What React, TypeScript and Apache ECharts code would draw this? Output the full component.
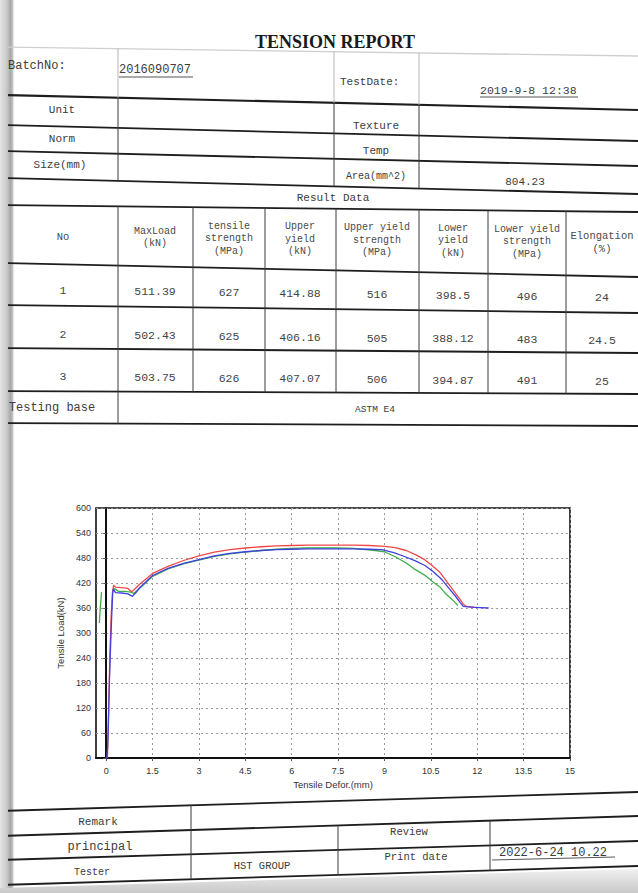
import React, { useEffect, useRef } from "react";
import * as echarts from "echarts";

// ---------- table data ----------
const testNos = ["1", "2", "3"];
const maxLoad = ["511.39", "502.43", "503.75"];
const tensileStrength = ["627", "625", "626"];
const upperYield = ["414.88", "406.16", "407.07"];
const upperYieldStrength = ["516", "505", "506"];
const lowerYield = ["398.5", "388.12", "394.87"];
const lowerYieldStrength = ["496", "483", "491"];
const elongation = ["24", "24.5", "25"];
const headerLabels = [
  "No",
  "MaxLoad\n(kN)",
  "tensile\nstrength\n(MPa)",
  "Upper\nyield\n(kN)",
  "Upper yield\nstrength\n(MPa)",
  "Lower\nyield\n(kN)",
  "Lower yield\nstrength\n(MPa)",
  "Elongation\n(%)",
];

// ---------- axis ticks ----------
const xTickValues = [0, 1.5, 3, 4.5, 6, 7.5, 9, 10.5, 12, 13.5, 15];

// ---------- curves (Tensile Defor. mm, Tensile Load kN) ----------
const test1Defor = [0.04, 0.08, 0.12, 0.16, 0.2, 0.24, 0.3, 0.5, 0.7, 0.82, 0.9, 1.1, 1.5, 2.0, 2.5, 3.0, 3.5, 4.0, 4.5, 5.0, 5.5, 6.0, 6.5, 7.0, 7.5, 8.0, 8.5, 9.0, 9.35, 9.7, 10.0, 10.3, 10.54, 10.8, 10.98, 11.15, 11.31, 11.45, 11.55, 11.65, 11.9];
const test1Load = [0, 120, 250, 340, 395, 415, 410, 409, 407, 399, 404, 418, 443, 460, 474, 485, 494, 500, 504, 507, 509, 510, 511, 511, 511, 511, 510, 508, 505, 498, 488, 476, 462, 445, 427, 410, 394, 380, 369, 364, 362];

const test2Defor = [0.02, 0.05, 0.07, 0.1, 0.14, 0.18, 0.21, 0.23, 0.3, 0.5, 0.7, 0.85, 0.95, 1.1, 1.5, 2.0, 2.5, 3.0, 3.5, 4.0, 4.5, 5.0, 5.5, 6.0, 6.5, 7.0, 7.5, 8.0, 8.5, 8.92, 9.3, 9.67, 10.0, 10.31, 10.6, 10.87, 11.1, 11.31, 11.45, 11.55, 11.8, 12.1, 12.37];
const test2Load = [0, 30, 80, 175, 265, 345, 395, 406, 397, 396, 394, 388, 396, 410, 438, 455, 467, 476, 485, 491, 495, 498, 500, 501, 502, 502, 502, 502, 501, 500, 493, 483, 473, 462, 446, 427, 406, 387, 373, 364, 362, 361, 360];

const test3PreDefor = [-0.22, -0.21, -0.19, -0.15];
const test3PreLoad = [324, 340, 362, 398];
const test3Defor = [0.25, 0.4, 0.6, 0.8, 0.88, 1.0, 1.2, 1.5, 2.0, 2.5, 3.0, 3.5, 4.0, 4.5, 5.0, 5.5, 6.0, 6.5, 7.0, 7.5, 8.0, 8.7, 9.0, 9.35, 9.7, 10.0, 10.3, 10.54, 10.8, 10.98, 11.15, 11.31, 11.37];
const test3Load = [407, 400, 400, 398, 395, 402, 415, 436, 454, 466, 475, 484, 490, 494, 498, 501, 503, 504, 504, 504, 503, 498, 495, 483, 468, 452, 439, 424, 410, 394, 383, 371, 366];

const zip = (xs: number[], ys: number[]) => xs.map((x, i) => [x, ys[i]]);

// ---------- drawing helpers ----------
const MONO = '"Liberation Mono", "DejaVu Sans Mono", monospace';
type Seg = [number, number];
const yAt = (s: Seg, x: number) => s[0] + ((s[1] - s[0]) * x) / 638;

const H: Record<string, Seg> = {
  faint: [47, 56],
  L1: [95, 110],
  LA: [125, 141],
  LB: [151, 166],
  LC: [178, 194],
  LRD: [205, 212],
  LH: [263, 277],
  R1: [305, 313],
  R2: [348, 353],
  R3: [391, 394],
  LT: [423, 426],
  B0: [811, 792],
  B1: [836, 816],
  B2: [860, 841],
  B3: [885, 866],
};

function line(x1: number, y1: number, x2: number, y2: number, w = 1.6, c = "#1e1e1e") {
  return { type: "line", silent: true, shape: { x1, y1, x2, y2 }, style: { stroke: c, lineWidth: w } };
}
function hline(s: Seg, w = 1.8, c = "#1e1e1e") {
  return line(8, yAt(s, 8), 638, yAt(s, 638), w, c);
}
function vline(x: number, a: Seg | number, b: Seg | number, w = 1, c = "#3a3a3a") {
  const y1 = typeof a === "number" ? a : yAt(a, x);
  const y2 = typeof b === "number" ? b : yAt(b, x);
  return line(x, y1, x, y2, w, c);
}
function text(t: string, x: number, y: number, size: number, opts: any = {}) {
  return {
    type: "text",
    silent: true,
    x,
    y,
    style: {
      text: t,
      font: `${opts.bold ? "bold " : ""}${size}px ${opts.family || MONO}`,
      fill: opts.fill || "#3c3c3c",
      align: opts.align || "center",
      verticalAlign: "middle",
      lineHeight: opts.lineHeight || size + 2,
    },
  };
}

function buildGraphic() {
  const g: any[] = [];
  // paper edges
  g.push({
    type: "rect",
    silent: true,
    z: -10,
    shape: { x: 0, y: 0, width: 15, height: 893 },
    style: {
      fill: {
        type: "linear", x: 0, y: 0, x2: 1, y2: 0,
        colorStops: [
          { offset: 0, color: "#e4e4e4" },
          { offset: 0.45, color: "#c9c9c9" },
          { offset: 0.7, color: "#a9a9a9" },
          { offset: 0.85, color: "#c4c4c4" },
          { offset: 1, color: "rgba(255,255,255,0)" },
        ],
      },
    },
  });
  g.push({
    type: "polygon",
    silent: true,
    z: -10,
    shape: { points: [[0, 888], [638, 869], [638, 893], [0, 893]] },
    style: {
      fill: {
        type: "linear", x: 0, y: 0, x2: 0, y2: 1,
        colorStops: [
          { offset: 0, color: "#f0f0f0" },
          { offset: 1, color: "#c8c8c8" },
        ],
      },
    },
  });

  // title
  g.push(text("TENSION REPORT", 335, 42, 18, { bold: true, family: '"Liberation Serif", serif', fill: "#1a1a1a" }));

  // top section lines
  g.push(hline(H.faint, 1.4, "#cfcfcf"));
  ["L1", "LA", "LB", "LC", "LRD", "LH", "R1", "R2", "R3", "LT"].forEach((k) => g.push(hline(H[k], k === "L1" ? 2.2 : 1.8)));
  [118, 334, 419].forEach((x) => {
    g.push(vline(x, H.faint, H.L1, 1, "#b5b5b5"));
    g.push(vline(x, H.L1, H.LC));
  });
  [118, 193, 265, 336, 419, 488, 566].forEach((x) => g.push(vline(x, H.LRD, H.R3)));
  g.push(vline(118, H.R3, H.LT));

  // batch row
  g.push(text("BatchNo:", 8, 66, 12, { align: "left" }));
  g.push(text("2016090707", 119, 70, 12, { align: "left" }));
  g.push(line(119, 77, 193, 77, 1, "#555"));
  g.push(text("TestDate:", 340, 82, 11, { align: "left" }));
  g.push(text("2019-9-8 12:38", 480, 90, 11.5, { align: "left" }));
  g.push(line(480, 97, 578, 97, 1, "#555"));

  // info rows
  g.push(text("Unit", 62, 110, 11));
  g.push(text("Norm", 62, 139, 11));
  g.push(text("Size(mm)", 60, 165, 11));
  g.push(text("Texture", 376, 126, 11));
  g.push(text("Temp", 376, 151, 11));
  g.push(text("Area(mm^2)", 376, 176, 10));
  g.push(text("804.23", 525, 182, 11));
  g.push(text("Result Data", 333, 198, 11));

  // result table
  const colCenters = [63, 155, 229, 300, 377, 453, 527, 602];
  headerLabels.forEach((h, i) => {
    const x = colCenters[i];
    const sz = i === 0 || i === 7 ? 10.5 : 10;
    g.push(text(h, x, 236 + (7 * x) / 638, sz, { lineHeight: 12.5, fill: "#4a4a4a" }));
  });
  const cols = [testNos, maxLoad, tensileStrength, upperYield, upperYieldStrength, lowerYield, lowerYieldStrength, elongation];
  const rowBase = [
    [290, 8],
    [334, 7],
    [376, 6],
  ];
  for (let r = 0; r < 3; r++) {
    cols.forEach((col, i) => {
      const x = colCenters[i];
      g.push(text(col[r], x, rowBase[r][0] + (rowBase[r][1] * x) / 638, 11.5, { fill: "#444" }));
    });
  }
  g.push(text("Testing base", 52, 408, 12));
  g.push(text("ASTM E4", 375, 409, 9.5));

  // bottom section
  ["B0", "B1", "B2", "B3"].forEach((k) => g.push(hline(H[k], 1.8)));
  g.push(vline(191, H.B0, H.B3));
  g.push(vline(338, H.B1, H.B3));
  g.push(vline(490, H.B1, H.B3));
  g.push(text("Remark", 98, 822, 11));
  g.push(text("principal", 100, 847, 12));
  g.push(text("Tester", 92, 872, 10));
  g.push(text("HST GROUP", 262, 866, 10.5));
  g.push(text("Review", 409, 832, 10.5));
  g.push(text("Print date", 416, 857, 10.5));
  g.push(text("2022-6-24 10.22", 553, 853, 12));
  g.push(line(492, 860, 615, 857, 1, "#555"));
  return g;
}

export default function App() {
  const ref = useRef<HTMLDivElement>(null);
  useEffect(() => {
    if (!ref.current) return;
    const chart = echarts.init(ref.current, undefined, { renderer: "svg" });
    const labelFont = { fontFamily: '"Liberation Sans", Arial, sans-serif', fontSize: 9, color: "#333" };
    chart.setOption({
      animation: false,
      backgroundColor: "#ffffff",
      grid: {
        left: 96,
        right: 68,
        top: 508,
        bottom: 135,
        show: true,
        borderColor: "#111",
        borderWidth: 1.6,
        backgroundColor: "transparent",
        containLabel: false,
        outerBoundsMode: "none",
      },
      xAxis: {
        type: "value",
        min: -0.33,
        max: 15,
        name: "Tensile Defor.(mm)",
        nameLocation: "middle",
        nameGap: 21,
        nameTextStyle: { ...labelFont, fontSize: 9.5, verticalAlign: "top" },
        axisLine: { show: true, onZero: false, lineStyle: { color: "#111", width: 2 } },
        axisTick: { show: true, length: 3, customValues: xTickValues, lineStyle: { color: "#555" } },
        axisLabel: { ...labelFont, margin: 8, customValues: xTickValues, formatter: (v: number) => String(v) },
        splitLine: { show: true, lineStyle: { color: "#9a9a9a", type: [2, 3], width: 1 } },
      },
      yAxis: {
        type: "value",
        min: 0,
        max: 600,
        interval: 60,
        name: "Tensile Load(kN)",
        nameLocation: "middle",
        nameGap: 29,
        nameRotate: 90,
        nameTextStyle: { ...labelFont, fontSize: 9.5 },
        axisLine: { show: true, lineStyle: { color: "#111", width: 2 } },
        axisTick: { show: true, length: 3, lineStyle: { color: "#555" } },
        axisLabel: { ...labelFont, margin: 5 },
        splitLine: { show: true, lineStyle: { color: "#9a9a9a", type: [2, 3], width: 1 } },
      },
      series: [
        { name: "Test 3 (start)", type: "line", data: zip(test3PreDefor, test3PreLoad), showSymbol: false, lineStyle: { color: "#3fae49", width: 1.3 }, itemStyle: { color: "#3fae49" } },
        { name: "Test 3", type: "line", data: zip(test3Defor, test3Load), showSymbol: false, lineStyle: { color: "#3fae49", width: 1.3 }, itemStyle: { color: "#3fae49" } },
        { name: "Test 1", type: "line", data: zip(test1Defor, test1Load), showSymbol: false, lineStyle: { color: "#f04848", width: 1.3 }, itemStyle: { color: "#f04848" } },
        { name: "Test 2", type: "line", data: zip(test2Defor, test2Load), showSymbol: false, lineStyle: { color: "#4040e0", width: 1.3 }, itemStyle: { color: "#4040e0" } },
      ],
      graphic: buildGraphic(),
    });
    return () => chart.dispose();
  }, []);
  return (
    <div
      ref={ref}
      style={{ position: "fixed", left: 0, top: 0, width: 638, height: 893, background: "#fff" }}
    />
  );
}
